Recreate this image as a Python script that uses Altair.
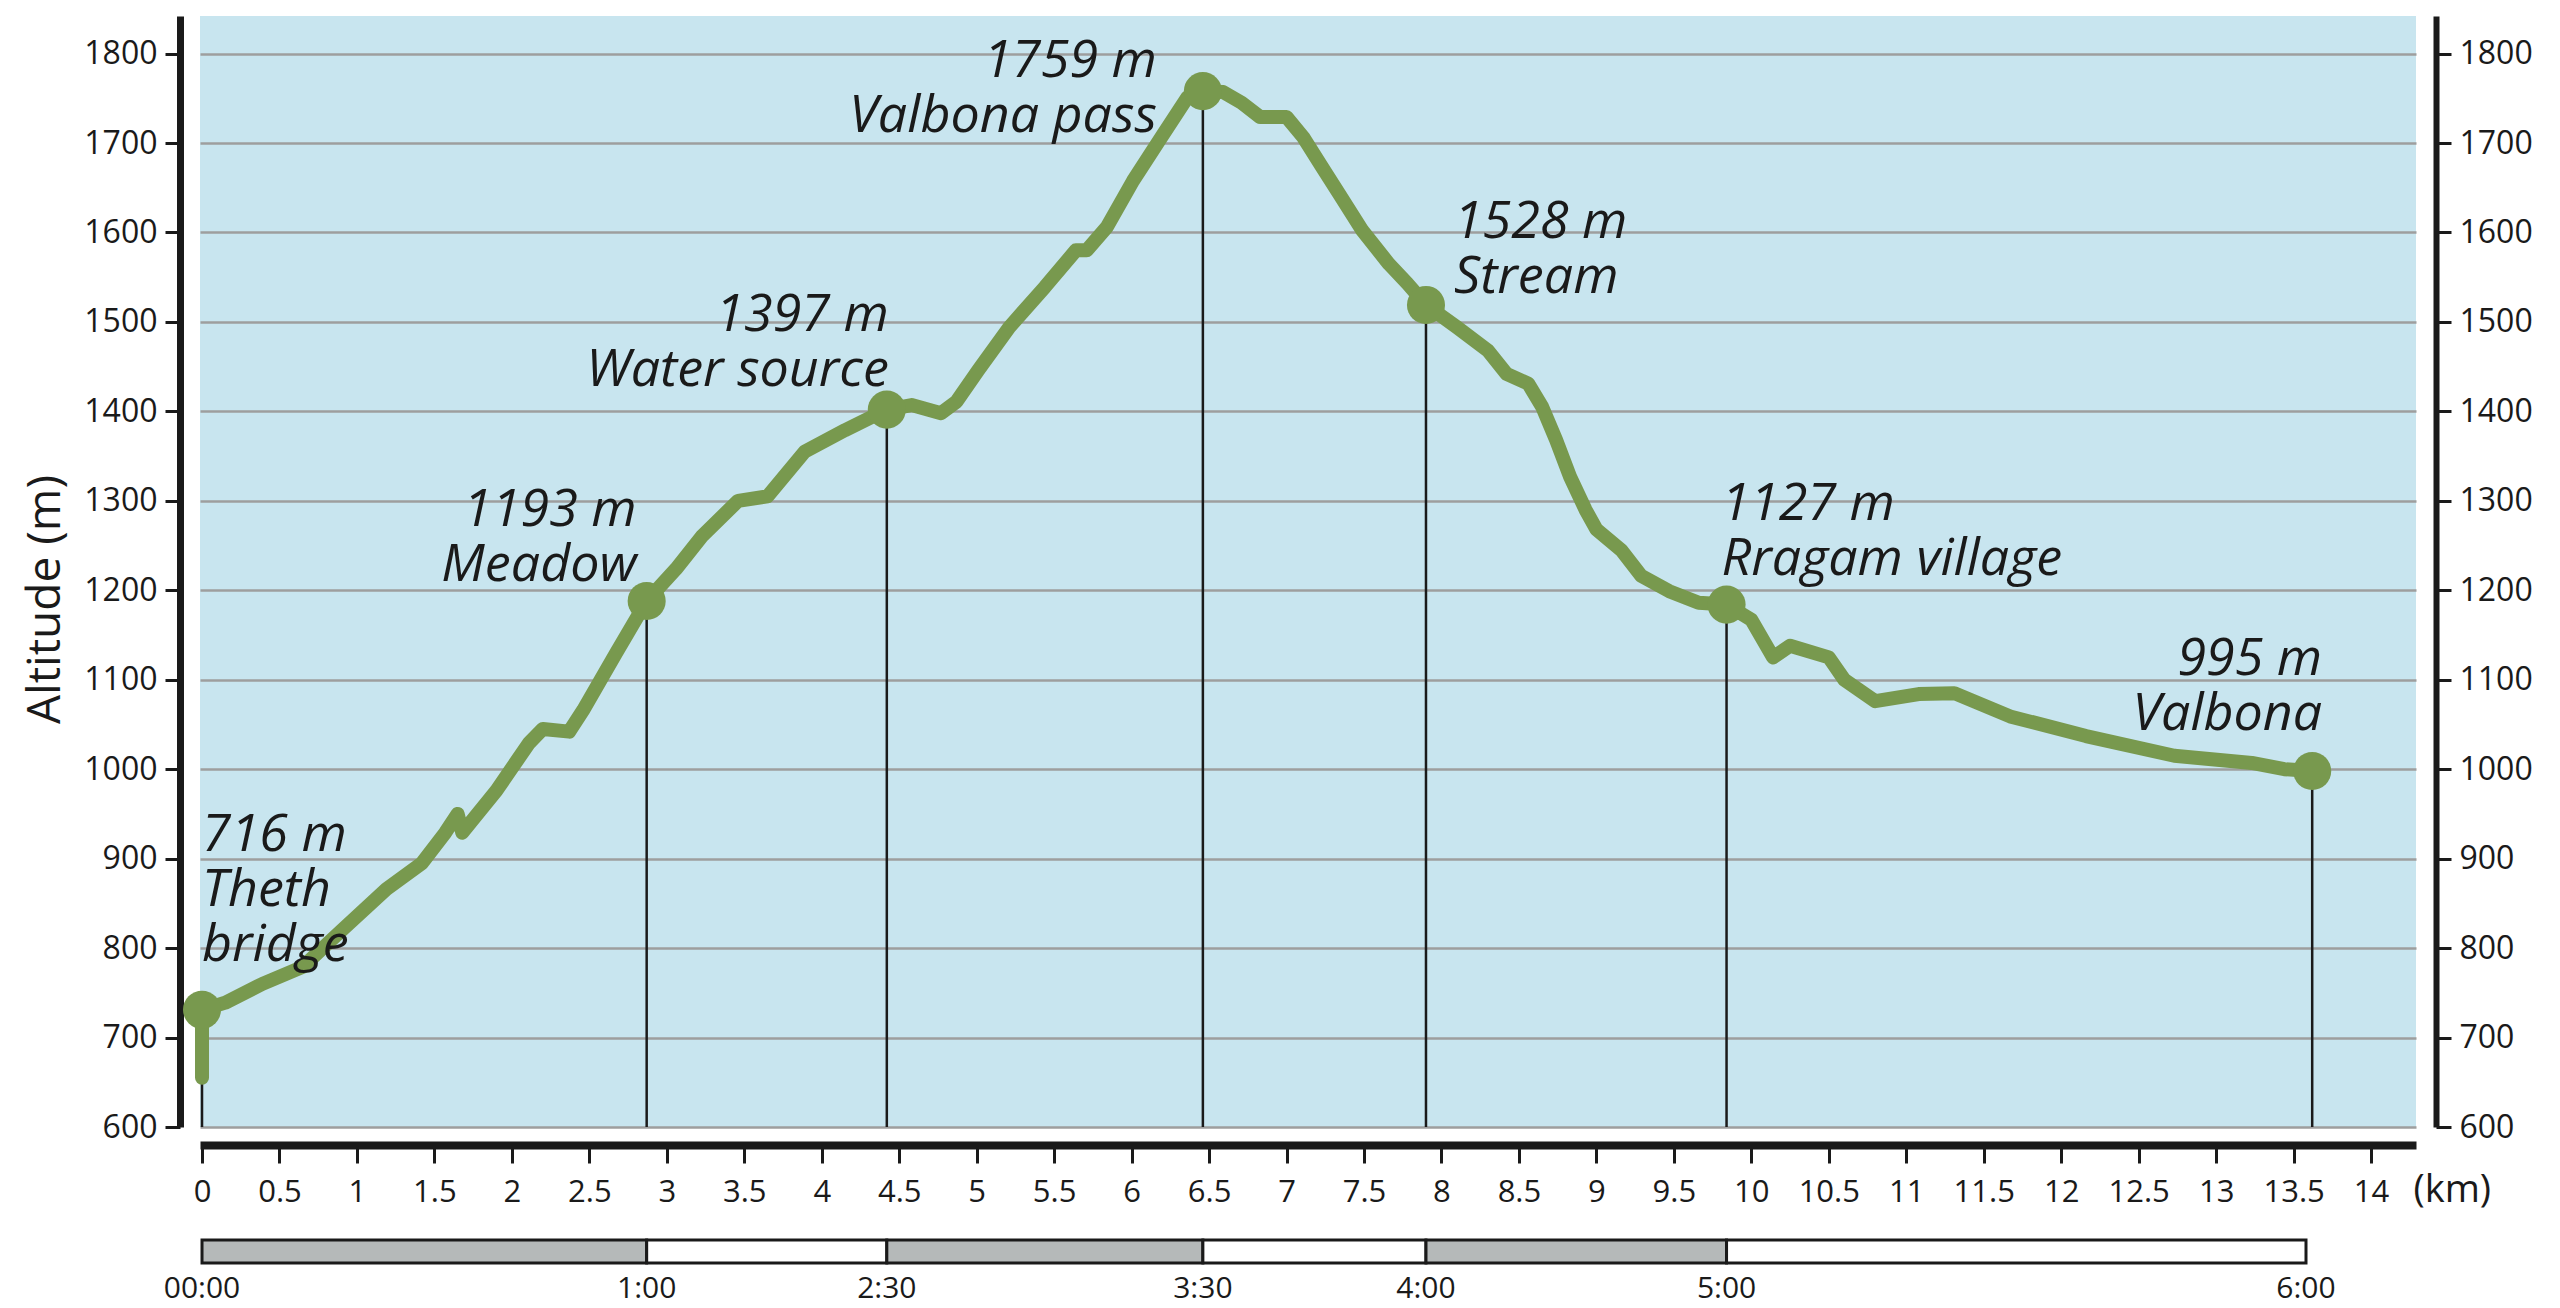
import altair as alt
import pandas as pd

# ---------------- data ----------------
prof_km = [0.0, 0.0, 0.15, 0.39, 0.65, 0.89, 1.19, 1.42, 1.57, 1.65, 1.68, 1.90, 2.11, 2.20, 2.37, 2.46,
           2.67, 2.87, 3.06, 3.23, 3.46, 3.65, 3.89, 4.15, 4.42,
           4.58, 4.77, 4.87, 5.01, 5.21, 5.44, 5.64, 5.71, 5.84, 6.01, 6.19, 6.36, 6.46, 6.59, 6.71,
           6.83, 7.00, 7.11, 7.23, 7.34, 7.49, 7.66, 7.78, 7.90,
           8.10, 8.30, 8.42, 8.56, 8.65, 8.74, 8.83, 8.93, 9.00, 9.16, 9.29, 9.47, 9.66, 9.84,
           10.00, 10.14, 10.25, 10.50, 10.60, 10.80, 11.08, 11.31, 11.67, 12.16, 12.73, 13.23, 13.44, 13.62]
prof_alt = [655, 731, 739, 760, 779, 818, 866, 895, 929, 950, 929, 976, 1029, 1045, 1042, 1066,
            1129, 1188, 1224, 1261, 1300, 1305, 1355, 1379, 1402,
            1407, 1398, 1411, 1446, 1494, 1539, 1580, 1580, 1606, 1658, 1706, 1751, 1758, 1757, 1745,
            1729, 1729, 1706, 1673, 1643, 1602, 1565, 1543, 1519,
            1494, 1468, 1442, 1431, 1405, 1368, 1327, 1290, 1268, 1245, 1216, 1199, 1186, 1184,
            1167, 1125, 1138, 1125, 1100, 1076, 1084, 1085, 1059, 1037, 1015, 1007, 1000, 998]

wp_km = [0.0, 2.87, 4.42, 6.46, 7.90, 9.84, 13.62]
wp_alt = [731, 1188, 1402, 1758, 1519, 1184, 998]
wp_elev = [716, 1193, 1397, 1759, 1528, 1127, 995]
wp_name_lines = [["Theth", "bridge"], ["Meadow"], ["Water source"], ["Valbona pass"],
                 ["Stream"], ["Rragam village"], ["Valbona"]]

time_km = [0.0, 2.87, 4.42, 6.46, 7.90, 9.84, 13.58]
time_lab = ["00:00", "1:00", "2:30", "3:30", "4:00", "5:00", "6:00"]

y_ticks = list(range(600, 1801, 100))
x_ticks = [i / 2 for i in range(29)]

# ---------------- styling ----------------
FONT = "Open Sans"
INK = "#1a1a1a"
BLUE = "#c8e5ef"
AREA = "#dbe7cb"
LINE = "#78994e"
GRID = "#9e9e9e"
BARGREY = "#b5b9b9"

# (align, dx, dy) for each waypoint label
LABEL_STYLE = [("left", 0, -159), ("right", -10, -75), ("right", 2, -79), ("right", -46, -14),
               ("left", 28, -67), ("left", -5, -85), ("right", 10, -96)]

prof_df = pd.DataFrame({"km": prof_km, "alt": prof_alt, "i": list(range(len(prof_km)))})
wp_df = pd.DataFrame({
    "km": wp_km, "alt": wp_alt, "i": list(range(len(wp_km))),
    "lines": [[f"{e} m"] + n for e, n in zip(wp_elev, wp_name_lines)],
})
seg_df = pd.DataFrame({"start": time_km[:-1], "end": time_km[1:], "idx": list(range(len(time_km) - 1))})
time_df = pd.DataFrame({"km": time_km, "lab": time_lab})

xs = alt.Scale(domain=[-0.013, 14.29], nice=False, zero=False)
ys = alt.Scale(domain=[600, 1842], nice=False, zero=False)

x_axis = alt.Axis(orient="bottom", values=x_ticks, format="~g", offset=18,
                  domainColor=INK, domainWidth=8, tickColor=INK, tickWidth=3, tickSize=18,
                  labelFont=FONT, labelFontSize=31, labelColor=INK, labelPadding=14,
                  labelFlush=False, labelOverlap=False, grid=False,
                  title="(km)", titleFont=FONT, titleFontSize=38, titleFontWeight="normal",
                  titleColor=INK, titleX=2213, titleY=45, titleAlign="left",
                  titleBaseline="middle", titleAngle=0)
left_axis = alt.Axis(orient="left", values=y_ticks, format="d", offset=20,
                     domainColor=INK, domainWidth=7, tickColor=INK, tickWidth=3, tickSize=15,
                     labelFont=FONT, labelFontSize=32, labelColor=INK, labelPadding=8,
                     labelFlush=False, labelOverlap=False,
                     grid=True, gridColor=GRID, gridWidth=2.5,
                     title="Altitude (m)", titleFont=FONT, titleFontSize=46,
                     titleFontWeight="normal", titleColor=INK, titleX=-135, titleY=583,
                     titleAngle=270, titleAlign="center", titleBaseline="middle")
right_axis = alt.Axis(orient="right", values=y_ticks, format="d", offset=20,
                      domainColor=INK, domainWidth=6, tickColor=INK, tickWidth=3, tickSize=15,
                      labelFont=FONT, labelFontSize=32, labelColor=INK, labelPadding=8,
                      labelFlush=False, labelOverlap=False, grid=False, title="")

x_enc = alt.X("km:Q", scale=xs, axis=x_axis)
y_plain = alt.Y("alt:Q", scale=ys, axis=None)

area = alt.Chart(prof_df).mark_area(color=AREA, opacity=1).encode(
    x=x_enc, y=alt.Y("alt:Q", scale=ys, axis=left_axis), y2=alt.datum(600), order="i:Q")
rules = alt.Chart(wp_df).mark_rule(color=INK, strokeWidth=2.5).encode(
    x=x_enc, y=y_plain, y2=alt.datum(600))
line = alt.Chart(prof_df).mark_line(color=LINE, strokeWidth=14, strokeJoin="round",
                                    strokeCap="round").encode(x=x_enc, y=y_plain, order="i:Q")
points = alt.Chart(wp_df).mark_circle(size=1450, color=LINE, opacity=1).encode(
    x=x_enc, y=alt.Y("alt:Q", scale=ys, axis=right_axis))

texts = []
for i, (al, dx, dy) in enumerate(LABEL_STYLE):
    texts.append(
        alt.Chart(wp_df).transform_filter(alt.datum.i == i).mark_text(
            align=al, dx=dx, dy=dy, baseline="alphabetic", font=FONT, fontStyle="italic",
            fontSize=52, lineHeight=55, color=INK
        ).encode(x=x_enc, y=y_plain, text="lines:N")
    )

main = alt.layer(area, rules, line, points, *texts).resolve_axis(y="independent").properties(
    width=2216, height=1111, view=alt.ViewBackground(fill=BLUE, strokeWidth=0))

bars = alt.Chart(seg_df).mark_rect(stroke=INK, strokeWidth=3).encode(
    x=alt.X("start:Q", scale=xs, axis=None), x2="end:Q",
    fill=alt.condition("datum.idx % 2 === 0", alt.value(BARGREY), alt.value("white")))
tlabels = alt.Chart(time_df).mark_text(baseline="middle", dy=37, font=FONT, fontSize=30,
                                       color=INK).encode(
    x=alt.X("km:Q", scale=xs, axis=None), text="lab:N")
timebar = alt.layer(bars, tlabels).properties(width=2216, height=23)

chart = alt.vconcat(main, timebar, spacing=29).configure_view(strokeWidth=0).properties(
    padding={"left": 14, "top": 8, "right": 8, "bottom": 12}, background="white")

chart.save("out.html", embed_options={"renderer": "svg", "actions": False})
